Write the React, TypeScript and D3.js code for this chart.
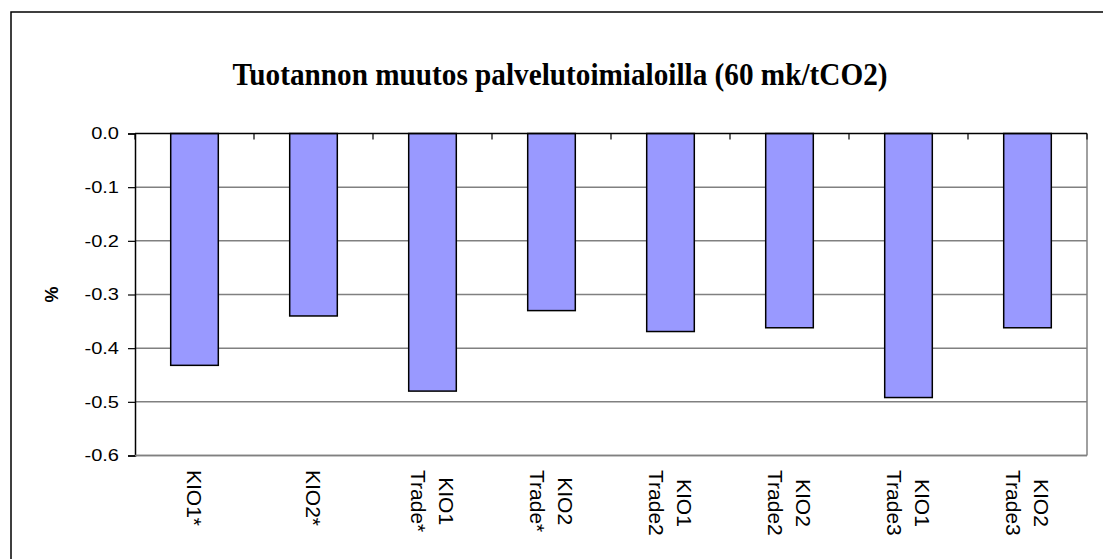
import React, { useRef, useEffect } from 'react';
import * as d3 from 'd3';

// chart values
const categories = ['KIO1*', 'KIO2*', 'KIO1\nTrade*', 'KIO2\nTrade*', 'KIO1\nTrade2', 'KIO2\nTrade2', 'KIO1\nTrade3', 'KIO2\nTrade3'];
const values = [-0.432, -0.340, -0.480, -0.330, -0.369, -0.362, -0.492, -0.362];
const yTicks = [0, -0.1, -0.2, -0.3, -0.4, -0.5, -0.6];

const title = 'Tuotannon muutos palvelutoimialoilla (60 mk/tCO2)';
const W = 1103;
const H = 559;

// plain hyphen minus, as in the source
const fmt = (d: number) => d3.format('.1f')(d).replace('\u2212', '-');

const App = () => {
  const svgRef = useRef<SVGSVGElement | null>(null);

  useEffect(() => {
    if (!svgRef.current) return;
    const svg = d3.select(svgRef.current);
    svg.selectAll('*').remove();

    const plot = { left: 135, right: 1087, top: 133.5, bottom: 455.5 };

    const x = d3.scaleBand<string>()
      .domain(categories)
      .range([plot.left, plot.right])
      .padding(0);

    const y = d3.scaleLinear()
      .domain([0, -0.6])
      .range([plot.top, plot.bottom]);

    const barW = x.bandwidth() * 0.4;

    // outer chart frame (runs off the picture on the right and bottom)
    svg.append('rect')
      .attr('x', 11).attr('y', 12)
      .attr('width', W + 20).attr('height', H + 20)
      .attr('fill', '#fff')
      .attr('stroke', '#000')
      .attr('stroke-width', 1.5);

    // title
    svg.append('text')
      .attr('x', 560).attr('y', 85)
      .attr('text-anchor', 'middle')
      .attr('font-family', '"Liberation Serif", "Times New Roman", serif')
      .attr('font-weight', 'bold')
      .attr('font-size', 31)
      .attr('textLength', 655)
      .attr('lengthAdjust', 'spacingAndGlyphs')
      .text(title);

    // gridlines
    svg.append('g')
      .selectAll('line')
      .data(yTicks.filter(d => d !== 0))
      .enter()
      .append('line')
      .attr('x1', plot.left).attr('x2', plot.right)
      .attr('y1', d => y(d)).attr('y2', d => y(d))
      .attr('stroke', '#808080')
      .attr('stroke-width', 1.5);

    // right border of plot area
    svg.append('line')
      .attr('x1', plot.right).attr('x2', plot.right)
      .attr('y1', plot.top).attr('y2', plot.bottom)
      .attr('stroke', '#808080')
      .attr('stroke-width', 1.5);

    // bars
    svg.append('g')
      .selectAll('rect')
      .data(values)
      .enter()
      .append('rect')
      .attr('x', (d, i) => (x(categories[i]) as number) + (x.bandwidth() - barW) / 2)
      .attr('y', y(0))
      .attr('width', barW)
      .attr('height', d => y(d) - y(0))
      .attr('fill', '#9999FF')
      .attr('stroke', '#000')
      .attr('stroke-width', 1.5);

    // y axis
    const yAxis = svg.append('g')
      .attr('transform', `translate(${plot.left},0)`)
      .call(d3.axisLeft(y).tickValues(yTicks).tickSize(7).tickFormat(() => ''));
    yAxis.select('.domain').attr('stroke', '#000').attr('stroke-width', 1.5);
    yAxis.selectAll('.tick line').attr('stroke', '#000').attr('stroke-width', 1.2);

    // y tick labels (slightly wide, like the source)
    svg.append('g')
      .selectAll('g')
      .data(yTicks)
      .enter()
      .append('g')
      .attr('transform', d => `translate(${plot.left - 16},${y(d)}) scale(1.18,1)`)
      .append('text')
      .attr('text-anchor', 'end')
      .attr('dy', '0.35em')
      .attr('font-family', '"Liberation Sans", Arial, sans-serif')
      .attr('font-size', 17)
      .attr('fill', '#000')
      .text(d => fmt(d));

    // category axis at zero
    const xAxis = svg.append('g')
      .attr('transform', `translate(0,${y(0)})`);
    xAxis.append('line')
      .attr('x1', plot.left).attr('x2', plot.right)
      .attr('stroke', '#000').attr('stroke-width', 1.5);
    xAxis.selectAll('line.tk')
      .data(d3.range(categories.length + 1))
      .enter()
      .append('line')
      .attr('class', 'tk')
      .attr('x1', i => plot.left + i * x.step())
      .attr('x2', i => plot.left + i * x.step())
      .attr('y1', 0).attr('y2', 6)
      .attr('stroke', '#000').attr('stroke-width', 1.2);

    // bottom border of plot area
    svg.append('line')
      .attr('x1', plot.left).attr('x2', plot.right)
      .attr('y1', plot.bottom).attr('y2', plot.bottom)
      .attr('stroke', '#808080')
      .attr('stroke-width', 1.5);

    // rotated category labels
    const labelTop = 470;
    const lineGap = 27.5;
    categories.forEach(cat => {
      const lines = cat.split('\n');
      const cx = (x(cat) as number) + x.bandwidth() / 2;
      const g = svg.append('g');
      const texts = lines.map((ln, i) => {
        const offset = (i - (lines.length - 1) / 2) * -lineGap;
        return g.append('text')
          .attr('font-family', '"Liberation Sans", Arial, sans-serif')
          .attr('font-size', 21)
          .attr('text-anchor', 'middle')
          .attr('dominant-baseline', 'central')
          .attr('data-x', cx + offset)
          .text(ln);
      });
      const maxLen = d3.max(texts, t => (t.node() as SVGTextElement).getComputedTextLength()) || 0;
      texts.forEach(t => {
        const tx = +t.attr('data-x');
        const ty = labelTop + maxLen / 2;
        t.attr('transform', `translate(${tx},${ty}) rotate(90)`);
      });
    });

    // y axis title
    svg.append('text')
      .attr('transform', `translate(52,${(plot.top + plot.bottom) / 2}) rotate(-90)`)
      .attr('text-anchor', 'middle')
      .attr('dominant-baseline', 'central')
      .attr('font-family', '"Liberation Sans", Arial, sans-serif')
      .attr('font-weight', 'bold')
      .attr('font-size', 18)
      .text('%');
  }, []);

  return (
    <div style={{ position: 'absolute', left: 0, top: 0, width: W, height: H, overflow: 'hidden', background: '#fff' }}>
      <svg ref={svgRef} width={W} height={H} style={{ display: 'block' }} />
    </div>
  );
};

export default App;
